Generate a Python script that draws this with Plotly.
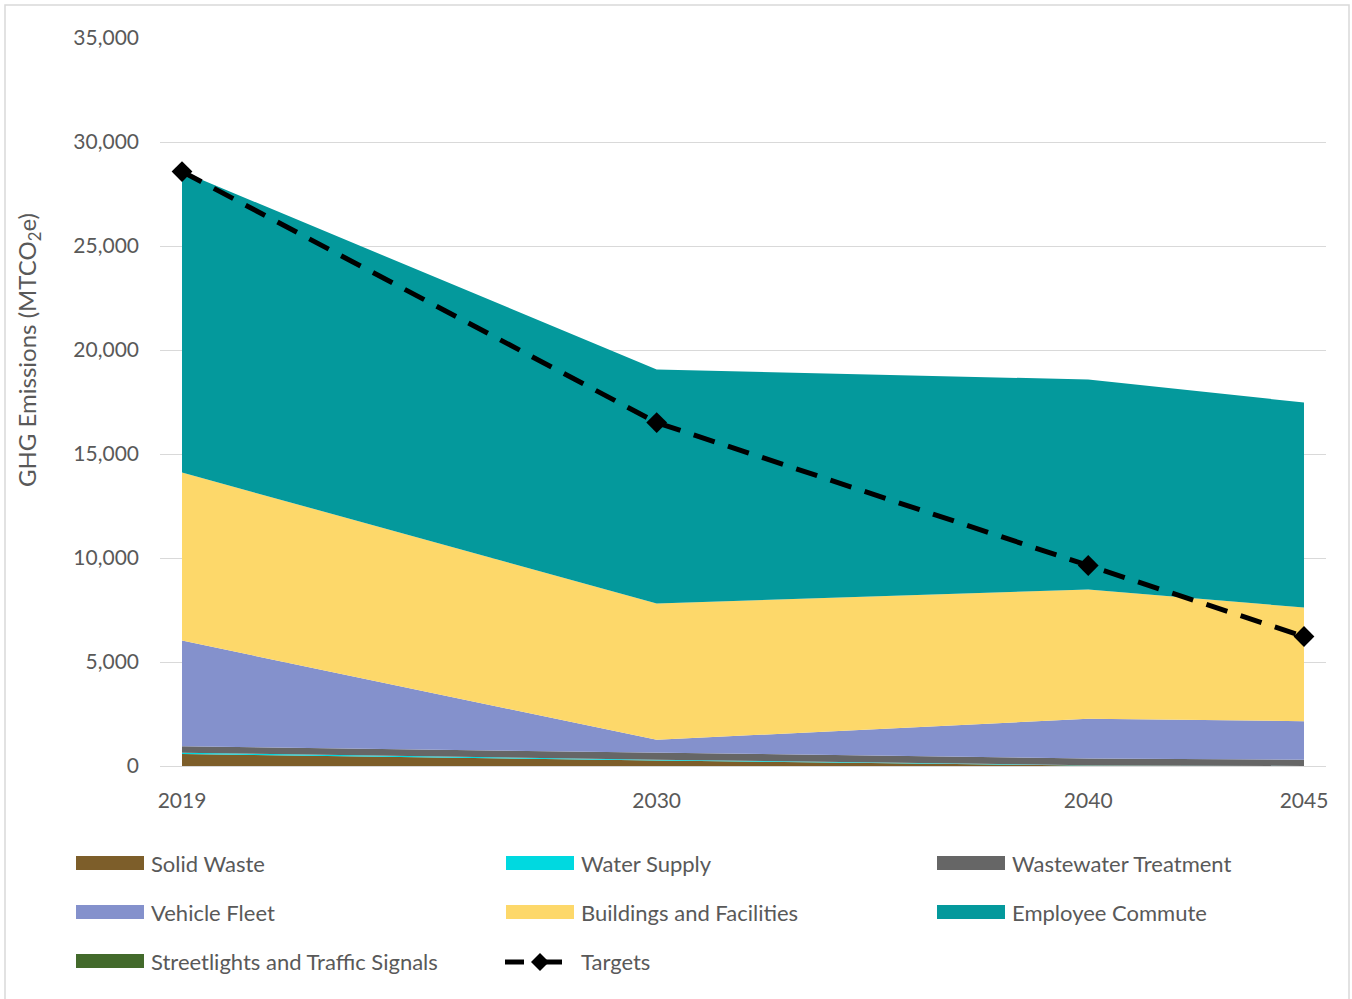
import plotly.graph_objects as go

years = [2019, 2030, 2040, 2045]
solid_waste = [580, 265, 25, 0]
water_supply = [60, 40, 15, 0]
wastewater = [310, 330, 320, 300]
vehicle_fleet = [5080, 625, 1910, 1855]
buildings = [8080, 6550, 6215, 5465]
employee_commute = [14470, 11250, 10095, 9855]
streetlights = [0, 0, 0, 0]
targets = [28580, 16510, 9640, 6225]

series = [
    ("Solid Waste", solid_waste, "#7D5E2A"),
    ("Water Supply", water_supply, "#00D9E0"),
    ("Wastewater Treatment", wastewater, "#666666"),
    ("Vehicle Fleet", vehicle_fleet, "#8491CC"),
    ("Buildings and Facilities", buildings, "#FDD86A"),
    ("Employee Commute", employee_commute, "#04999C"),
    ("Streetlights and Traffic Signals", streetlights, "#436A2B"),
]

FONT = "Lato, Open Sans, sans-serif"
GRAY = "#595959"

# plot area in pixels
L, R, T, B = 160, 1326, 38, 766
PW, PH = R - L, B - T


def px(xp):
    return (xp - L) / PW


def py(yp):
    return (B - yp) / PH


fig = go.Figure()
for name, vals, col in series:
    fig.add_trace(go.Scatter(
        x=years, y=vals, name=name, mode="lines", stackgroup="one",
        line=dict(width=0, color=col), fillcolor=col, showlegend=False,
    ))
fig.add_trace(go.Scatter(
    x=years, y=targets, name="Targets", mode="lines+markers",
    line=dict(color="black", width=5, dash="22px,14px"),
    marker=dict(symbol="diamond", size=16, color="black"), showlegend=False,
))

shapes = [dict(type="rect", xref="paper", yref="paper",
               x0=px(5), x1=px(1349), y0=py(1010), y1=py(5),
               line=dict(color="#D9D9D9", width=1.5), fillcolor="rgba(0,0,0,0)",
               layer="below")]
annotations = [dict(
    text="GHG Emissions (MTCO<sub>2</sub>e)", textangle=-90,
    xref="paper", yref="paper", x=px(28), y=py(350), xanchor="center",
    yanchor="middle", showarrow=False, font=dict(size=24, color=GRAY),
)]

# custom legend (3 columns)
cols_x = [76, 506, 937]
rows_y = [863, 912, 961]
legend_items = [(n, c) for n, _, c in series] + [("Targets", None)]
for i, (name, col) in enumerate(legend_items):
    cx = cols_x[i % 3]
    cy = rows_y[i // 3]
    if col is not None:
        shapes.append(dict(type="rect", xref="paper", yref="paper",
                           x0=px(cx), x1=px(cx + 68), y0=py(cy + 7), y1=py(cy - 7),
                           line=dict(width=0), fillcolor=col))
    else:
        for a, b in [(cx - 1, cx + 18), (cx + 34, cx + 56)]:
            shapes.append(dict(type="line", xref="paper", yref="paper",
                               x0=px(a), x1=px(b), y0=py(cy + 1), y1=py(cy + 1),
                               line=dict(color="black", width=5)))
        dcx, dcy, d = cx + 34, cy + 1, 9
        shapes.append(dict(
            type="path", xref="paper", yref="paper",
            path=(f"M{px(dcx - d)},{py(dcy)} L{px(dcx)},{py(dcy - d)} "
                  f"L{px(dcx + d)},{py(dcy)} L{px(dcx)},{py(dcy + d)} Z"),
            fillcolor="black", line=dict(width=0)))
    annotations.append(dict(
        text=name, xref="paper", yref="paper", x=px(cx + 73), y=py(cy),
        xanchor="left", yanchor="middle", showarrow=False,
        font=dict(size=22, color=GRAY),
    ))

fig.update_layout(
    width=1352, height=999,
    margin=dict(l=L, r=1352 - R, t=T, b=999 - B),
    paper_bgcolor="white", plot_bgcolor="white",
    font=dict(family=FONT, color=GRAY, size=21),
    showlegend=False,
    xaxis=dict(
        range=[2018.49, 2045.51], tickmode="array", tickvals=years,
        ticktext=[str(y) for y in years], showgrid=False, zeroline=False,
        showline=True, linecolor="#D9D9D9", linewidth=1, ticks="",
        ticklabelstandoff=16, tickfont=dict(size=21, color=GRAY),
    ),
    yaxis=dict(
        range=[0, 35000], tickvals=list(range(0, 35001, 5000)),
        tickformat=",d", showgrid=True, gridcolor="#D9D9D9", gridwidth=1,
        zeroline=False, showline=False, ticks="", ticklabelstandoff=20,
        tickfont=dict(size=21, color=GRAY),
    ),
    shapes=shapes,
    annotations=annotations,
)

fig.write_html("out.html")
